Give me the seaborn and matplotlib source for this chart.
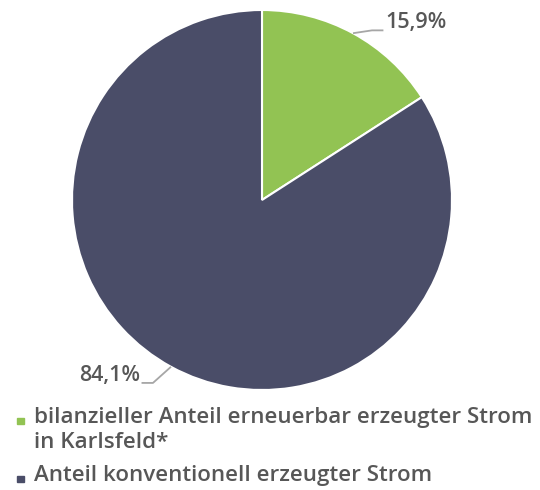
import numpy as np
import matplotlib
matplotlib.use("Agg")
import matplotlib.pyplot as plt
import seaborn as sns
from matplotlib.patches import Rectangle

# data
labels = ["bilanzieller Anteil erneuerbar erzeugter Strom\nin Karlsfeld*",
          "Anteil konventionell erzeugter Strom"]
shares = [15.9, 84.1]
pct_labels = ["15,9%", "84,1%"]
colors = ["#92C353", "#4A4D68"]

sns.set_theme(style="white")
plt.rcParams["font.family"] = ["Open Sans", "DejaVu Sans"]
text_color = "#575757"
line_color = "#A6A6A6"

fig = plt.figure(figsize=(5.4, 4.9), dpi=100)
ax = fig.add_axes([72 / 540, 100 / 490, 380 / 540, 380 / 490])

wedges, _ = ax.pie(shares, colors=colors, startangle=90, counterclock=False,
                   radius=1, wedgeprops=dict(edgecolor="white", linewidth=1.5))
ax.set_xlim(-1, 1)
ax.set_ylim(-1, 1)
ax.set_aspect("equal")

# percentage labels with leader lines
for w, txt in zip(wedges, pct_labels):
    ang = np.deg2rad((w.theta1 + w.theta2) / 2)
    x0, y0 = np.cos(ang), np.sin(ang)
    side = 1 if x0 > 0 else -1
    ex, ey = x0 + side * 0.1 * (1 if side > 0 else 0.95), y0 + (0.015 if y0 > 0 else -0.085)
    hx = ex + side * 0.06
    ax.plot([x0, ex, hx], [y0, ey, ey], color=line_color, lw=1.3,
            clip_on=False, solid_capstyle="butt")
    ty = ey + 0.04
    ax.text(hx + side * 0.01, ty, txt, ha="left" if side > 0 else "right",
            va="center", fontsize=15.5, color=text_color, fontweight="semibold")

# legend drawn as text and small squares
legend_rows = [409, 467]
for lab, col, top in zip(labels, colors, legend_rows):
    fig.text(34 / 540, 1 - (top - 2) / 490, lab, ha="left", va="top",
             fontsize=16.1, color=text_color, linespacing=1.22, fontweight="semibold")
    fig.patches.append(Rectangle((17 / 540, 1 - (top + 15) / 490), 6.5 / 540, 6.5 / 490,
                                 transform=fig.transFigure, color=col))

fig.savefig("out.png", dpi=100)
